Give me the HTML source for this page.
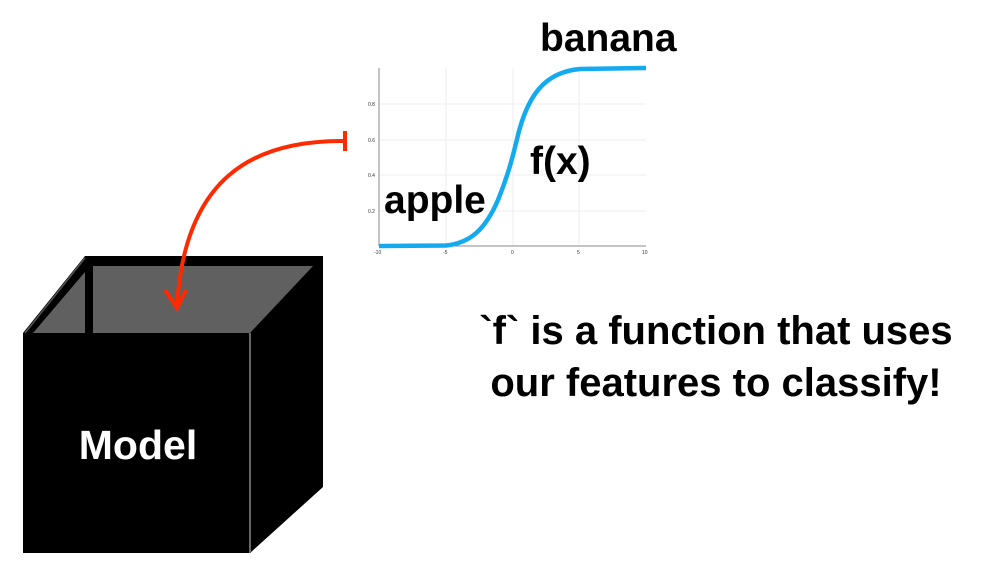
<!DOCTYPE html>
<html><head><style>
body{margin:0;background:#fff;width:984px;height:578px;overflow:hidden}
svg{display:block}
</style></head><body>
<svg width="984" height="578" viewBox="0 0 984 578" font-family="Liberation Sans, sans-serif" font-weight="bold">
<!-- plot -->
<g stroke="#eee" stroke-width="1">
<line x1="379" y1="104" x2="646" y2="104"/><line x1="379" y1="140" x2="646" y2="140"/>
<line x1="379" y1="175" x2="646" y2="175"/><line x1="379" y1="211" x2="646" y2="211"/>
<line x1="446" y1="68" x2="446" y2="246"/><line x1="513" y1="68" x2="513" y2="246"/><line x1="579" y1="68" x2="579" y2="246"/>
</g>
<line x1="379" y1="68" x2="379" y2="246" stroke="#888"/>
<line x1="379" y1="246" x2="646" y2="246" stroke="#888"/>
<g font-size="5" font-weight="normal" fill="#333">
<text x="368" y="106">0.8</text><text x="368" y="142">0.6</text><text x="368" y="177">0.4</text><text x="368" y="213">0.2</text>
<text x="374" y="254">-10</text><text x="443" y="254">-5</text><text x="511" y="254">0</text><text x="577" y="254">5</text><text x="642" y="254">10</text>
</g>
<path fill="none" stroke="#14aaf0" stroke-width="4.5" d="M379,246 L446,245.5 C470,243 485,230 498,200 C508,175 512,160 518,135 C528,95 545,72 580,69 L646,68"/>
<text x="540" y="51" font-size="39">banana</text>
<text x="530" y="174" font-size="39">f(x)</text>
<text x="384" y="213" font-size="39">apple</text>
<!-- cube -->
<polygon points="85,256 323,256 323,487 250,553 23,553 23,333" fill="#000"/>
<polygon points="93,266 313,266 250,333 93,333" fill="#606060"/>
<polygon points="85,272 85,333 33,333" fill="#606060"/>
<line x1="250" y1="333" x2="250" y2="553" stroke="#666" stroke-width="2"/>
<line x1="25" y1="333" x2="85" y2="258" stroke="#555" stroke-width="1.5"/>
<text x="138" y="459" font-size="41" fill="#fff" text-anchor="middle">Model</text>
<!-- arrow -->
<path d="M345,141 C250,140 185,180 177,305" fill="none" stroke="#ff2a00" stroke-width="4"/>
<line x1="345" y1="131" x2="345" y2="151" stroke="#ff2a00" stroke-width="4"/>
<path d="M165,290 L177,308 L186,290" fill="none" stroke="#ff2a00" stroke-width="4"/>
<!-- caption -->
<text x="716" y="344" font-size="40" text-anchor="middle">`f` is a function that uses</text>
<text x="716" y="396" font-size="40" text-anchor="middle">our features to classify!</text>
</svg>
</body></html>
